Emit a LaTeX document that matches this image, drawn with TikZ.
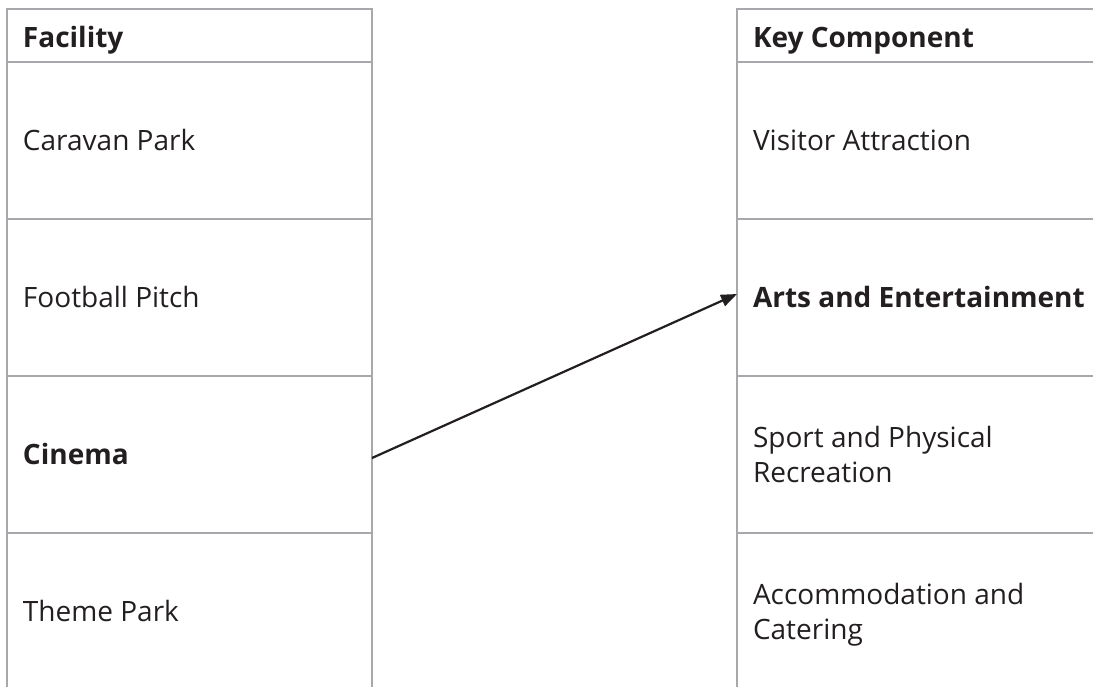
\documentclass[tikz,border=0pt]{standalone}
\usepackage{fontspec}
\setmainfont{Open Sans}
\usetikzlibrary{arrows.meta}
\definecolor{rulegrey}{RGB}{168,168,172}
\definecolor{ink}{RGB}{35,31,32}
\begin{document}
\begin{tikzpicture}[x=1pt,y=-1pt,
  gridline/.style={draw=rulegrey,line width=2.6pt,line cap=rect},
  headcell/.style={minimum width=365pt,minimum height=53pt,inner sep=0pt,outer sep=0pt},
  bodycell/.style={minimum width=365pt,minimum height=157pt,inner sep=0pt,outer sep=0pt},
  celltext/.style={anchor=west,inner sep=0pt,outer sep=0pt,text=ink,
    font=\fontsize{28}{35}\selectfont,text height=20pt,text depth=0pt},
  twolines/.style={text height=55pt},
  link/.style={draw=ink,line width=2.2pt,-{Triangle[length=16pt,width=12pt]}}]
\useasboundingbox (0,0) rectangle (1093,686);
\clip (0,0) rectangle (1093,686);

% cells of the facility column
\node[headcell] (lh) at (189.5,35.5) {};
\node[bodycell] (l1) at (189.5,140.5) {};
\node[bodycell] (l2) at (189.5,297.5) {};
\node[bodycell] (l3) at (189.5,454.5) {};
\node[bodycell] (l4) at (189.5,611.5) {};

% cells of the key component column
\node[headcell] (rh) at (919.5,35.5) {};
\node[bodycell] (r1) at (919.5,140.5) {};
\node[bodycell] (r2) at (919.5,297.5) {};
\node[bodycell] (r3) at (919.5,454.5) {};
\node[bodycell] (r4) at (919.5,611.5) {};

% ruling
\foreach \c in {lh,l1,l2,l3,l4,rh,r1,r2,r3,r4}
  \draw[gridline] (\c.north west) -- (\c.north east);
\draw[gridline] (lh.north west) -- (l4.south west);
\draw[gridline] (lh.north east) -- (l4.south east);
\draw[gridline] (rh.north west) -- (r4.south west);

% texts
\node[celltext] (tlh) at ([xshift=16pt,yshift=-1.5pt]lh.west) {\bfseries Facility};
\node[celltext] (tl1) at ([xshift=16pt]l1.west) {Caravan Park};
\node[celltext] (tl2) at ([xshift=16pt]l2.west) {Football Pitch};
\node[celltext] (tl3) at ([xshift=16pt]l3.west) {\bfseries Cinema};
\node[celltext] (tl4) at ([xshift=16pt]l4.west) {Theme Park};

\node[celltext] (trh) at ([xshift=16pt,yshift=-1.5pt]rh.west) {\bfseries Key Component};
\node[celltext] (tr1) at ([xshift=16pt]r1.west) {Visitor Attraction};
\node[celltext] (tr2) at ([xshift=16pt]r2.west) {\bfseries Arts and Entertainment};
\node[celltext,twolines] (tr3) at ([xshift=16pt]r3.west)
  {\vbox{\hbox{Sport and Physical}\hbox{Recreation}}};
\node[celltext,twolines] (tr4) at ([xshift=16pt]r4.west)
  {\vbox{\hbox{Accommodation and}\hbox{Catering}}};

% matching arrow
\draw[link] ([yshift=-3.5pt]l3.east) -- ([yshift=3.5pt]r2.west);
\end{tikzpicture}
\end{document}
